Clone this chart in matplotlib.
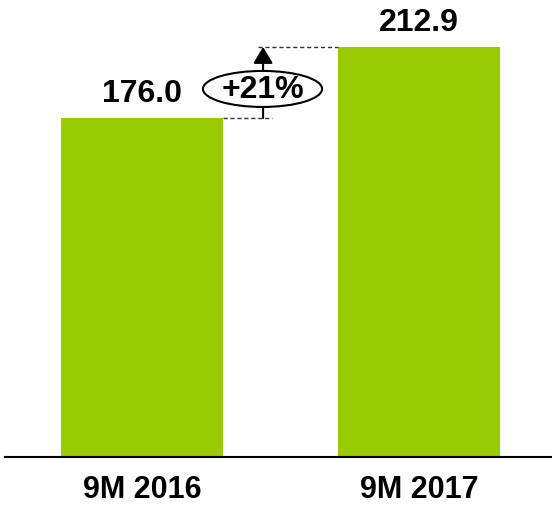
import matplotlib.pyplot as plt
from matplotlib.patches import Ellipse

# Data
categories = ["9M 2016", "9M 2017"]
values = [176.0, 212.9]
value_labels = ["176.0", "212.9"]
growth_label = "+21%"

plt.rcParams['font.family'] = ['Liberation Sans', 'DejaVu Sans']

fig = plt.figure(figsize=(5.52, 5.10), dpi=100)
ax = fig.add_axes([5 / 552, 52 / 510, 547 / 552, 458 / 510])

green = "#99cc00"
width = 0.585
x = [0, 1]
ax.bar(x, values, width=width, color=green, zorder=2)

ax.set_xlim(-0.4946, 1.480)
ax.set_ylim(0, 237.8)

# Value labels
for xi, v, lab in zip(x, values, value_labels):
    ax.annotate(lab, (xi, v), xytext=(0, 7), textcoords="offset points",
                ha="center", va="bottom", fontsize=23, fontweight="bold")

# Growth annotation
x_arrow = 0.437
ax.plot([x[0] + width / 2, 0.469], [values[0], values[0]], ls=(0, (3, 2)),
        color="#333333", lw=1, zorder=3)
ax.plot([0.419, x[1] - width / 2], [values[1], values[1]], ls=(0, (3, 2)),
        color="#333333", lw=1, zorder=3)
ax.annotate("", xy=(x_arrow, values[1]), xytext=(x_arrow, values[0]),
            arrowprops=dict(arrowstyle="-|>,head_length=0.5,head_width=0.3",
                            color="black", lw=1.5,
                            mutation_scale=20, shrinkA=0, shrinkB=0), zorder=3)
ell = Ellipse((0.435, 191.1), 0.43, 18.7, facecolor="white",
              edgecolor="black", lw=1.5, zorder=4)
ax.add_patch(ell)
ax.text(0.435, 191.1, growth_label, ha="center", va="center",
        fontsize=23, fontweight="bold", zorder=5)

# Axes styling
ax.set_xticks(x)
ax.set_xticklabels(categories, fontsize=22, fontweight="bold")
ax.tick_params(axis="x", length=0, pad=12.5)
ax.set_yticks([])
for s in ["top", "right", "left"]:
    ax.spines[s].set_visible(False)
ax.spines["bottom"].set_linewidth(1.5)

fig.savefig("out.png", dpi=100)
